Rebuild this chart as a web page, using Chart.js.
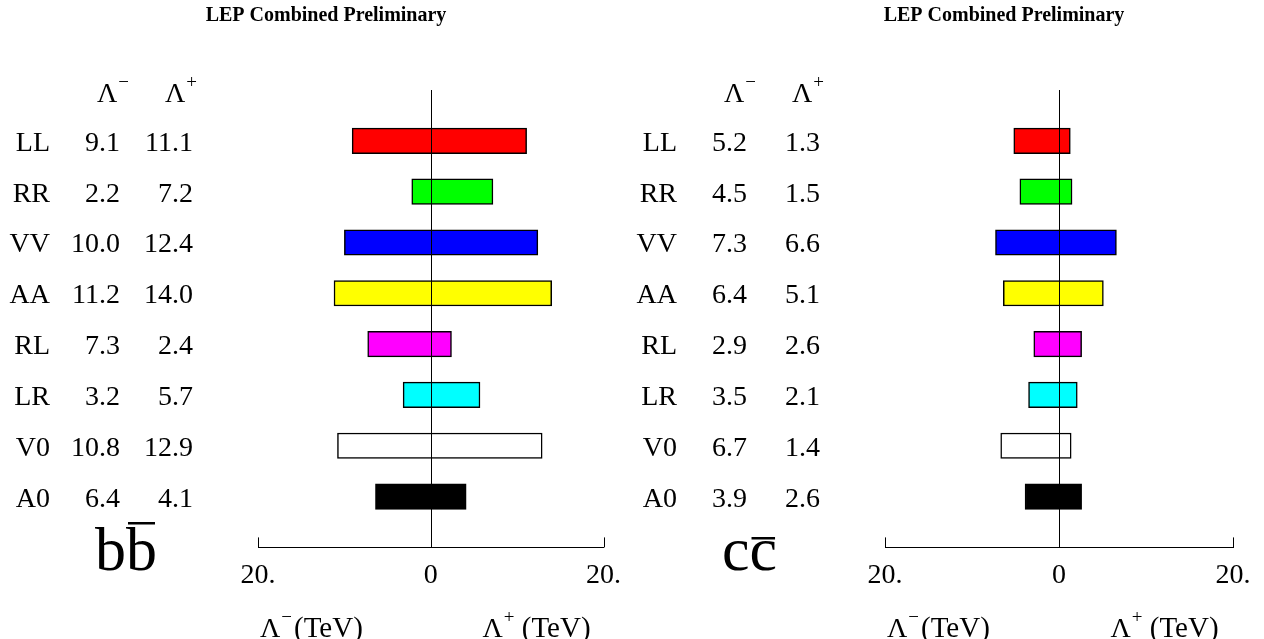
<!DOCTYPE html>
<html>
<head>
<meta charset="utf-8">
<script src="https://cdn.jsdelivr.net/npm/chart.js@4.4.1/dist/chart.umd.min.js"></script>
<style>
  body { margin: 0; background: #fff; }
  canvas { position: absolute; top: 0; }
</style>
</head>
<body>
<canvas id="chartBB" width="632" height="639" style="left:0"></canvas>
<canvas id="chartCC" width="632" height="639" style="left:632px"></canvas>
<script>
// limits in TeV
const categories = ["LL", "RR", "VV", "AA", "RL", "LR", "V0", "A0"];
const bbMinus = [9.1, 2.2, 10.0, 11.2, 7.3, 3.2, 10.8, 6.4];
const bbPlus = [11.1, 7.2, 12.4, 14.0, 2.4, 5.7, 12.9, 4.1];
const ccMinus = [5.2, 4.5, 7.3, 6.4, 2.9, 3.5, 6.7, 3.9];
const ccPlus = [1.3, 1.5, 6.6, 5.1, 2.6, 2.1, 1.4, 2.6];
const xTicks = [-20, 0, 20];
const tickLabels = ["20.", "0", "20."];

const barColors = ["#ff0000", "#00ff00", "#0000ff", "#ffff00", "#ff00ff", "#00ffff", "#ffffff", "#000000"];
const serif = "'Liberation Serif', 'Times New Roman', serif";

// draws "Λ" with a small superscript, returns the x after it
const lambda = (ctx, x, y, sup) => {
  ctx.font = `28px ${serif}`;
  ctx.textAlign = "left";
  ctx.fillText("Λ", x, y);
  let w = ctx.measureText("Λ").width;
  ctx.font = `19px ${serif}`;
  ctx.fillText(sup, x + w + 1, y - 14);
  return x + w + 1 + ctx.measureText(sup).width;
};

const panelText = {
  id: "panelText",
  afterDatasetsDraw(chart, args, opts) {
    const { ctx, chartArea: a, scales: { x, y } } = chart;
    const x0 = Math.round(x.getPixelForValue(0)) + 0.5;
    ctx.save();
    ctx.strokeStyle = "#000";
    ctx.lineWidth = 1;
    ctx.beginPath();
    ctx.moveTo(x0, a.top);
    ctx.lineTo(x0, a.bottom);
    // little up-ticks at both ends of the axis
    [xTicks[0], xTicks[xTicks.length - 1]].forEach((v) => {
      const px = Math.round(x.getPixelForValue(v)) + 0.5;
      ctx.moveTo(px, a.bottom);
      ctx.lineTo(px, a.bottom - 10);
    });
    ctx.stroke();

    ctx.fillStyle = "#000";
    ctx.textBaseline = "alphabetic";

    // title
    ctx.font = `bold 20px ${serif}`;
    ctx.textAlign = "center";
    ctx.fillText("LEP Combined Preliminary", opts.titleX, 21);

    // column headers
    lambda(ctx, a.left - 161, 102, "−");
    lambda(ctx, a.left - 93, 102, "+");

    // rows
    ctx.font = `28px ${serif}`;
    ctx.textAlign = "right";
    opts.cats.forEach((c, i) => {
      const py = y.getPixelForValue(i + 1) + 10;
      ctx.fillText(c, a.left - 208, py);
      ctx.fillText(opts.minus[i].toFixed(1), a.left - 138, py);
      ctx.fillText(opts.plus[i].toFixed(1), a.left - 65, py);
    });

    // quark pair label with a bar over the second letter
    ctx.font = `62px ${serif}`;
    ctx.textAlign = "left";
    const qx = a.left - 163;
    ctx.fillText(opts.quark + opts.quark, qx, 570);
    const w1 = ctx.measureText(opts.quark).width;
    ctx.fillRect(qx + w1 + 2, opts.barY, w1 - 4, 2.5);

    // axis titles
    let tx = lambda(ctx, a.left + 2, 637, "−");
    ctx.font = `29px ${serif}`;
    ctx.fillText("(TeV)", tx + 2, 637);
    tx = lambda(ctx, x0 + 51, 637, "+");
    ctx.font = `29px ${serif}`;
    ctx.fillText(" (TeV)", tx, 637);
    ctx.restore();
  },
};

const makePanel = (id, minus, plus, opts) => {
  new Chart(document.getElementById(id), {
    type: "bar",
    data: {
      labels: ["", ...categories, ""],
      datasets: [
        {
          data: [null, ...minus.map((m, i) => [-m, plus[i]]), null],
          backgroundColor: ["#fff", ...barColors, "#fff"],
          borderColor: "#000",
          borderWidth: 1.5,
          borderSkipped: false,
          barThickness: 25.5,
        },
      ],
    },
    options: {
      indexAxis: "y",
      responsive: false,
      animation: false,
      layout: { padding: { left: opts.left, right: opts.right, top: 90, bottom: 36 } },
      plugins: {
        legend: { display: false },
        tooltip: { enabled: false },
        panelText: { cats: categories, minus: minus, plus: plus, ...opts },
      },
      scales: {
        x: {
          type: "linear",
          min: -20,
          max: 20,
          afterBuildTicks: (s) => {
            s.ticks = xTicks.map((v) => ({ value: v }));
          },
          ticks: {
            callback: (v, i) => tickLabels[i],
            font: { family: serif, size: 28 },
            color: "#000",
            padding: 11,
            maxRotation: 0,
            autoSkip: false,
          },
          grid: { display: false, drawTicks: false },
          border: { display: true, color: "#000", width: 1 },
        },
        y: { type: "category", offset: false, display: false },
      },
    },
    plugins: [panelText],
  });
};

makePanel("chartBB", bbMinus, bbPlus, { left: 258, right: 25, titleX: 326, quark: "b", barY: 522 });
makePanel("chartCC", ccMinus, ccPlus, { left: 253, right: 31, titleX: 372, quark: "c", barY: 537 });
</script>
</body>
</html>
